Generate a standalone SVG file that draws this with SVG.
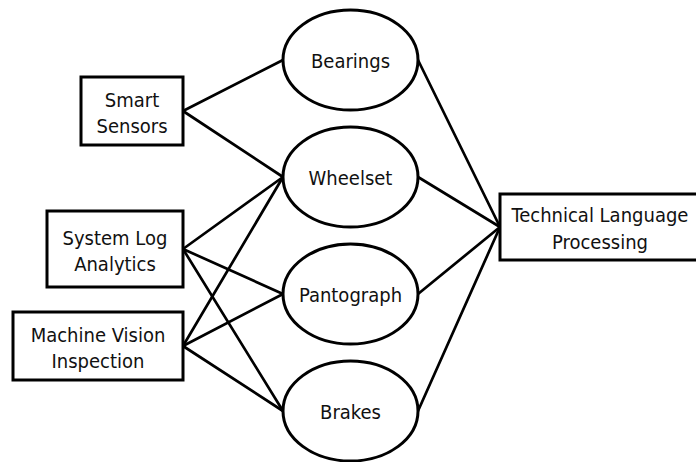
<svg xmlns="http://www.w3.org/2000/svg" width="696" height="462" viewBox="0 0 696 462">
<style>
.box{fill:#fff;stroke:#000;stroke-width:3}
.ell{fill:#fff;stroke:#000;stroke-width:3}
.lbl{font-family:"DejaVu Sans Condensed","DejaVu Sans",sans-serif;font-stretch:condensed;font-size:20px;fill:#111;text-anchor:middle}
#connectors line{stroke:#000;stroke-width:2.7;stroke-linecap:round}
</style>
<rect width="696" height="462" fill="#fff"/>
<g id="connectors">
<line x1="183" y1="111" x2="283" y2="60"/>
<line x1="183" y1="111" x2="283" y2="177"/>
<line x1="183" y1="249" x2="283" y2="177"/>
<line x1="183" y1="249" x2="283" y2="294"/>
<line x1="183" y1="249" x2="283" y2="411"/>
<line x1="183" y1="346" x2="283" y2="177"/>
<line x1="183" y1="346" x2="283" y2="294"/>
<line x1="183" y1="346" x2="283" y2="411"/>
<line x1="418" y1="60" x2="500" y2="227"/>
<line x1="418" y1="177" x2="500" y2="227"/>
<line x1="418" y1="294" x2="500" y2="227"/>
<line x1="418" y1="411" x2="500" y2="227"/>
</g>
<g id="smart-sensors">
<rect class="box" x="81" y="77" width="102" height="68"/>
<text class="lbl" x="132" y="106.5">Smart</text>
<text class="lbl" x="132" y="133">Sensors</text>
</g>
<g id="system-log-analytics">
<rect class="box" x="47" y="211" width="136" height="76"/>
<text class="lbl" x="115" y="244.5">System Log</text>
<text class="lbl" x="115" y="271">Analytics</text>
</g>
<g id="machine-vision-inspection">
<rect class="box" x="13" y="312" width="170" height="68"/>
<text class="lbl" x="98" y="341.5">Machine Vision</text>
<text class="lbl" x="98" y="368">Inspection</text>
</g>
<g id="bearings">
<ellipse class="ell" cx="350.5" cy="60" rx="67.5" ry="50"/>
<text class="lbl" x="350.5" y="68">Bearings</text>
</g>
<g id="wheelset">
<ellipse class="ell" cx="350.5" cy="177" rx="67.5" ry="50"/>
<text class="lbl" x="350.5" y="185">Wheelset</text>
</g>
<g id="pantograph">
<ellipse class="ell" cx="350.5" cy="294" rx="67.5" ry="50"/>
<text class="lbl" x="350.5" y="302">Pantograph</text>
</g>
<g id="brakes">
<ellipse class="ell" cx="350.5" cy="411" rx="67.5" ry="50"/>
<text class="lbl" x="350.5" y="419">Brakes</text>
</g>
<g id="technical-language-processing">
<rect class="box" x="500" y="194" width="200" height="66"/>
<text class="lbl" x="600" y="222">Technical Language</text>
<text class="lbl" x="600" y="249">Processing</text>
</g>
</svg>
